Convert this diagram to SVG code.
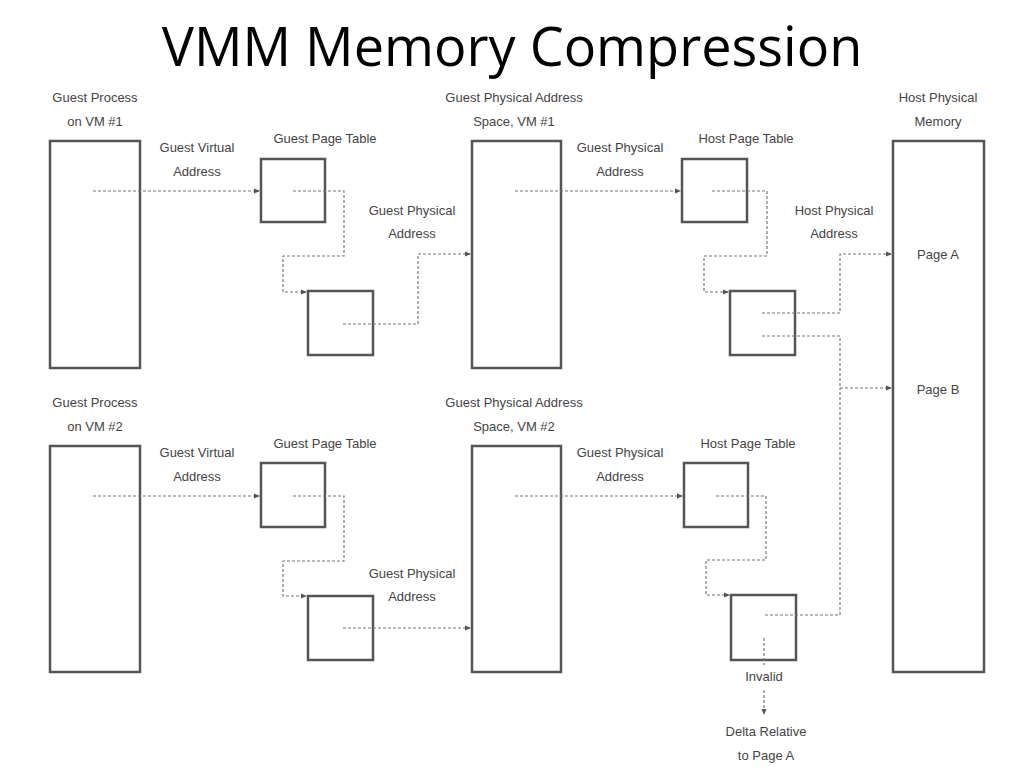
<svg xmlns="http://www.w3.org/2000/svg" width="1024" height="768" viewBox="0 0 1024 768">
<style>
.t{font-family:"Liberation Sans",Arial,sans-serif;font-size:13px;fill:#444;text-anchor:middle}
.b{fill:#fff;stroke:#555;stroke-width:2.5}
.c{fill:none;stroke:#777;stroke-width:1.2;stroke-dasharray:3,2}
</style>
<defs><marker id="a" markerWidth="6" markerHeight="6" refX="5" refY="3" orient="auto" markerUnits="userSpaceOnUse"><path d="M0,0.5L6,3L0,5.5z" fill="#555"/></marker></defs>
<rect width="1024" height="768" fill="#fff"/>
<text x="512" y="66" style="font-family:'Open Sans',sans-serif;font-size:54px;fill:#000;text-anchor:middle">VMM Memory Compression</text>
<g id="gp1"><rect class="b" x="50" y="141" width="90" height="227"/></g>
<g id="gpt1a"><rect class="b" x="261" y="159" width="64" height="63"/></g>
<g id="gpt1b"><rect class="b" x="308" y="291" width="65" height="64"/></g>
<g id="gpa1"><rect class="b" x="472" y="141" width="89" height="227"/></g>
<g id="hpt1a"><rect class="b" x="682" y="159" width="65" height="63"/></g>
<g id="hpt1b"><rect class="b" x="730" y="291" width="65" height="64"/></g>
<g id="hpm"><rect class="b" x="893" y="141" width="91" height="531"/></g>
<g id="gp2"><rect class="b" x="50" y="446" width="90" height="226"/></g>
<g id="gpt2a"><rect class="b" x="261" y="463" width="64" height="64"/></g>
<g id="gpt2b"><rect class="b" x="308" y="596" width="65" height="64"/></g>
<g id="gpa2"><rect class="b" x="472" y="446" width="89" height="226"/></g>
<g id="hpt2a"><rect class="b" x="684" y="463" width="64" height="64"/></g>
<g id="hpt2b"><rect class="b" x="731" y="595" width="65" height="65"/></g>
<g id="connectors">
<path class="c" d="M93,191H259" marker-end="url(#a)"/>
<path class="c" d="M293,191H344V256H283V292H306" marker-end="url(#a)"/>
<path class="c" d="M343,324H418V254H470" marker-end="url(#a)"/>
<path class="c" d="M515,191H680" marker-end="url(#a)"/>
<path class="c" d="M712,191H767V256H704V292H728" marker-end="url(#a)"/>
<path class="c" d="M762,313H840V254H891" marker-end="url(#a)"/>
<path class="c" d="M762,336H840V388H891" marker-end="url(#a)"/>
<path class="c" d="M765,615H840V388"/>
<path class="c" d="M93,496H259" marker-end="url(#a)"/>
<path class="c" d="M293,496H344V561H283V596H306" marker-end="url(#a)"/>
<path class="c" d="M343,628H470" marker-end="url(#a)"/>
<path class="c" d="M515,496H682" marker-end="url(#a)"/>
<path class="c" d="M716,496H766V560H706V595H729" marker-end="url(#a)"/>
<path class="c" d="M764,638V665"/>
<path class="c" d="M764,690V714" marker-end="url(#a)"/>
</g>
<g id="labels">
<text class="t" x="95" y="102">Guest Process</text><text class="t" x="95" y="126">on VM #1</text>
<text class="t" x="197" y="152">Guest Virtual</text><text class="t" x="197" y="176">Address</text>
<text class="t" x="325" y="143">Guest Page Table</text>
<text class="t" x="412" y="215">Guest Physical</text><text class="t" x="412" y="238">Address</text>
<text class="t" x="514" y="102">Guest Physical Address</text><text class="t" x="514" y="126">Space, VM #1</text>
<text class="t" x="620" y="152">Guest Physical</text><text class="t" x="620" y="176">Address</text>
<text class="t" x="746" y="143">Host Page Table</text>
<text class="t" x="834" y="215">Host Physical</text><text class="t" x="834" y="238">Address</text>
<text class="t" x="938" y="102">Host Physical</text><text class="t" x="938" y="126">Memory</text>
<text class="t" x="938" y="259">Page A</text><text class="t" x="938" y="394">Page B</text>
<text class="t" x="95" y="407">Guest Process</text><text class="t" x="95" y="431">on VM #2</text>
<text class="t" x="197" y="457">Guest Virtual</text><text class="t" x="197" y="481">Address</text>
<text class="t" x="325" y="448">Guest Page Table</text>
<text class="t" x="412" y="578">Guest Physical</text><text class="t" x="412" y="601">Address</text>
<text class="t" x="514" y="407">Guest Physical Address</text><text class="t" x="514" y="431">Space, VM #2</text>
<text class="t" x="620" y="457">Guest Physical</text><text class="t" x="620" y="481">Address</text>
<text class="t" x="748" y="448">Host Page Table</text>
<text class="t" x="764" y="681">Invalid</text>
<text class="t" x="766" y="736">Delta Relative</text><text class="t" x="766" y="760">to Page A</text>
</g>
</svg>
